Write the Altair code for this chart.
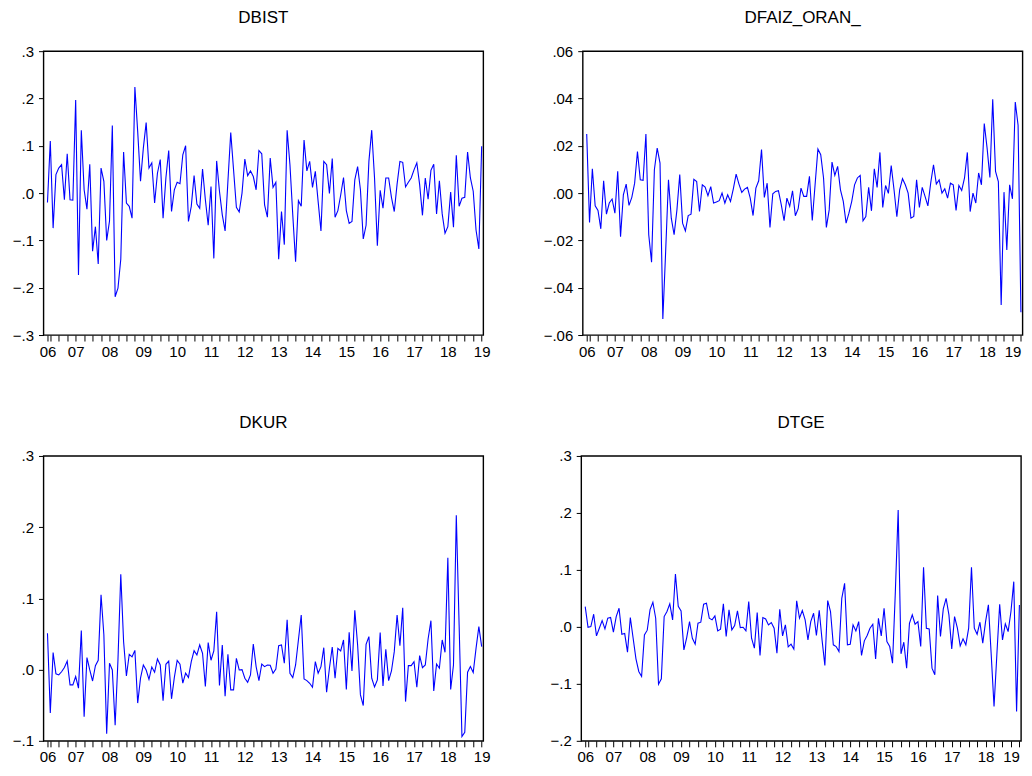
import altair as alt
import pandas as pd

# Monthly observations, 2006M03 - 2019M01 (155 obs)
start_month = "2006-03-01"
n_obs = 155

dbist = [-0.02, 0.11, -0.074, 0.039, 0.053, 0.06, -0.014, 0.083, -0.014, -0.015,
         0.197, -0.173, 0.133, 0.007, -0.034, 0.061, -0.123, -0.071, -0.15, 0.053,
         0.025, -0.1, -0.059, 0.143, -0.219, -0.201, -0.14, 0.087, -0.021, -0.028,
         -0.053, 0.224, 0.13, 0.025, 0.095, 0.149, 0.053, 0.064, -0.021, 0.042,
         0.071, -0.053, 0.032, 0.09, -0.039, 0.007, 0.023, 0.02, 0.081, 0.1,
         -0.06, -0.028, 0.037, -0.023, -0.032, 0.051, -0.014, -0.068, 0.014, -0.138,
         0.068, 0.004, -0.046, -0.08, 0.025, 0.128, 0.049, -0.03, -0.04, 0.0,
         0.072, 0.037, 0.047, 0.035, 0.007, 0.09, 0.083, -0.025, -0.051, 0.074,
         0.012, 0.023, -0.14, -0.039, -0.109, 0.133, 0.06, -0.046, -0.145, -0.016,
         -0.028, 0.112, 0.047, 0.067, 0.012, 0.046, -0.018, -0.08, 0.067, 0.06,
         -0.001, 0.073, -0.051, -0.037, -0.004, 0.033, -0.037, -0.064, -0.06, 0.028,
         0.056, 0.007, -0.097, -0.068, 0.067, 0.133, 0.032, -0.111, 0.006, -0.032,
         0.032, 0.032, -0.009, -0.039, 0.019, 0.067, 0.065, 0.013, 0.023, 0.032,
         0.049, 0.064, 0.018, -0.047, 0.032, -0.013, 0.048, 0.061, -0.044, 0.026,
         -0.044, -0.085, -0.071, 0.002, -0.072, 0.08, -0.028, -0.011, -0.009, 0.087,
         0.032, 0.004, -0.078, -0.118, 0.099]

dfaiz = [0.025, -0.0124, 0.0103, -0.0054, -0.0073, -0.0151, 0.0052, -0.0089, -0.0042, -0.0025,
         -0.0085, 0.0092, -0.0184, -0.0007, 0.0038, -0.0052, -0.0018, 0.0042, 0.0176, 0.0056,
         0.0054, 0.025, -0.0176, -0.0292, 0.0099, 0.019, 0.0127, -0.0532, -0.0247, 0.0056,
         -0.0106, -0.0176, -0.0071, 0.0078, -0.0127, -0.016, -0.0095, -0.0089, 0.0058, 0.0049,
         -0.0078, 0.0035, 0.0025, -0.0011, 0.0027, -0.0042, -0.0038, -0.0032, 0.0, -0.0042,
         -0.0007, -0.0035, 0.0018, 0.008, 0.0038, 0.0003, 0.0017, 0.0024, -0.0021, -0.0095,
         0.0021, 0.0052, 0.0184, -0.0018, 0.0042, -0.0145, -0.0003, 0.0007, 0.001, -0.0049,
         -0.0117, -0.0021, -0.0056, 0.001, -0.0096, -0.0066, 0.0021, -0.0014, -0.0014, 0.0071,
         -0.0116, 0.0035, 0.0186, 0.0162, 0.0064, -0.0145, -0.0071, 0.0131, 0.0075, 0.0113,
         0.0014, -0.0035, -0.0127, -0.0085, -0.0035, 0.0035, 0.0064, 0.0075, -0.0117, -0.0099,
         0.0024, -0.0075, 0.0103, 0.0024, 0.0172, -0.0061, 0.0032, -0.0001, 0.0116, 0.0014,
         -0.01, 0.0014, 0.0061, 0.0035, 0.0, -0.0106, -0.0099, 0.0056, -0.0061, 0.0024,
         -0.0014, -0.0054, 0.0042, 0.012, 0.0038, 0.0056, 0.0, 0.0018, -0.0021, 0.0042,
         0.0035, -0.0073, 0.0032, 0.0011, 0.0064, 0.0172, -0.0078, 0.0, -0.0042, 0.0085,
         0.0035, 0.0294, 0.0191, 0.0066, 0.0397, 0.0092, 0.0049, -0.0473, 0.0004, -0.024,
         0.0035, -0.0024, 0.0385, 0.0287, -0.0504]

dkur = [0.051, -0.061, 0.024, -0.006, -0.0075, -0.003, 0.003, 0.012, -0.0215, -0.0215,
        -0.0098, -0.026, 0.055, -0.066, 0.017, -0.0005, -0.016, 0.0056, 0.013, 0.105,
        0.049, -0.09, 0.009, -0.0005, -0.078, 0.0136, 0.134, 0.039, -0.009, 0.0215,
        0.018, 0.027, -0.047, -0.012, 0.0065, -0.0005, -0.0136, 0.0037, -0.0037, 0.015,
        0.0065, -0.0435, 0.0075, 0.012, -0.041, -0.011, 0.013, 0.0075, -0.019, -0.005,
        -0.011, 0.0112, 0.0266, 0.0206, 0.0346, 0.0229, -0.0238, 0.0379, 0.0131, 0.0262,
        0.0813, -0.0224, 0.0346, -0.0374, 0.0215, -0.0285, -0.0285, 0.0159, -0.0005, 0.0,
        -0.0121, -0.0178, -0.0075, 0.036, 0.0042, -0.0154, 0.0079, 0.0042, 0.0065, 0.0061,
        -0.0051, 0.0009, 0.0336, 0.0346, 0.0089, 0.0701, -0.0051, -0.0112, 0.0065, 0.0416,
        0.0766, -0.0131, -0.0154, -0.0192, -0.0248, 0.0112, -0.0051, 0.0042, 0.0308, -0.0318,
        0.0019, 0.0318, -0.0121, 0.0299, 0.0262, 0.0416, -0.028, 0.0523, -0.0019, 0.0832,
        0.0346, -0.0355, -0.0505, 0.0355, 0.0463, -0.0121, -0.0243, -0.0145, 0.0519, -0.0229,
        0.0285, -0.0154, -0.0019, 0.0252, 0.0766, 0.0336, 0.0869, -0.0449, 0.0056, 0.0056,
        0.0112, -0.0248, 0.0196, 0.0028, 0.0065, 0.043, 0.0687, -0.0299, 0.0079, 0.0019,
        0.0416, 0.0243, 0.157, -0.028, 0.0065, 0.2168, 0.0626, -0.0939, -0.0879, -0.0037,
        0.0042, -0.0042, 0.0299, 0.0603, 0.0322]

dtge = [0.0356, -0.0006, 0.0006, 0.0222, -0.0158, -0.0023, 0.0111, -0.0035, 0.0152, 0.0164,
        -0.0093, 0.0181, 0.0327, -0.0129, -0.0117, -0.0444, 0.0164, -0.0199, -0.0561, -0.0783,
        -0.087, -0.014, -0.0058, 0.0304, 0.0432, 0.0152, -0.1005, -0.0911, 0.0181, 0.0269,
        0.0403, 0.0123, 0.0929, 0.0362, 0.028, -0.0403, -0.0187, 0.0093, -0.0199, -0.0304,
        0.0064, 0.0082, 0.0397, 0.0415, 0.0152, 0.0123, 0.0193, -0.007, -0.0041, 0.0403,
        -0.0169, 0.0298, -0.0053, 0.0023, 0.028, -0.0012, -0.0006, -0.007, 0.0444, -0.0199,
        -0.0374, 0.0251, -0.0502, 0.0164, 0.014, 0.0035, 0.0076, -0.0023, -0.0461, 0.031,
        -0.0158, 0.0035, -0.035, -0.0304, -0.0391, 0.0456, 0.0152, 0.0286, 0.0123, -0.0228,
        0.0093, 0.0239, -0.0152, 0.0292, -0.0228, -0.0678, 0.0461, 0.0269, -0.0315, -0.0345,
        -0.0432, 0.0502, 0.0765, -0.0315, -0.0304, 0.0035, -0.007, 0.0093, -0.0502, -0.0245,
        -0.0152, -0.0023, 0.0047, -0.0561, 0.0152, -0.0158, 0.0327, -0.0257, -0.0345, -0.0637,
        0.0619, 0.205, -0.0473, -0.0269, -0.0724, 0.0064, 0.021, 0.0047, 0.0093, -0.0345,
        0.1046, -0.0023, -0.0035, -0.0724, -0.0841, 0.0549, -0.0169, 0.0315, 0.0502, 0.021,
        -0.0386, 0.0181, -0.0023, -0.0333, -0.021, -0.0315, -0.0023, 0.1046, -0.0023, -0.0129,
        0.0082, -0.0286, 0.0093, 0.0386, -0.049, -0.1396, -0.049, 0.0397, -0.0228, 0.0053,
        -0.0082, 0.0269, 0.0794, -0.1484, 0.0386]

titles = ["DBIST", "DFAIZ_ORAN_", "DKUR", "DTGE"]
y_ranges = [(-0.3, 0.3, 0.1, ".1f"), (-0.06, 0.06, 0.02, ".2f"),
            (-0.1, 0.3, 0.1, ".1f"), (-0.2, 0.3, 0.1, ".1f")]

dates = pd.date_range(start_month, periods=n_obs, freq="MS")
t = list(dates.year + (dates.month - 1) / 12.0)

FONT = "Liberation Sans"
LABEL_SIZE = 15
first_t = t[0]
quarters = [2006 + k / 4 for k in range(1, 53)]
x_values = [first_t] + [q for q in quarters if q > first_t]
x_domain = [first_t - 0.118, t[-1] + 0.047]


def panel(title, values, yr, height, right_side):
    lo, hi, step, fmt = yr
    nsteps = int(round((hi - lo) / step))
    yvals = [round(lo + k * step, 4) for k in range(nsteps + 1)]
    df = pd.DataFrame({"t": t, "v": values})
    if right_side:
        x_align = {"condition": {"test": "datum.value > 2018.99", "value": "right"},
                   "value": "center"}
    else:
        x_align = "center"
    return alt.Chart(df).mark_line(color="#0000ff", strokeWidth=1.1).encode(
        x=alt.X("t:Q",
                scale=alt.Scale(domain=x_domain, nice=False, zero=False),
                axis=alt.Axis(values=x_values, title=None, grid=False, domain=False,
                              tickSize=6, tickColor="black", tickWidth=1,
                              labelExpr="(datum.value % 1 < 0.01 || datum.value < 2006.2) ? format(floor(datum.value) % 100, '02d') : ''",
                              labelAlign=x_align,
                              labelFlush=False, labelOverlap=False, labelPadding=3,
                              labelFont=FONT, labelFontSize=LABEL_SIZE, labelColor="black")),
        y=alt.Y("v:Q",
                scale=alt.Scale(domain=[lo, hi], nice=False, zero=False),
                axis=alt.Axis(values=yvals, title=None, grid=False, domain=False,
                              tickSize=5, tickColor="black", tickWidth=1,
                              labelExpr=f"replace(format(datum.value, '{fmt}'), '0.', '.')",
                              labelFlush=False, labelOverlap=False, labelPadding=5,
                              labelFont=FONT, labelFontSize=LABEL_SIZE, labelColor="black")),
    ).properties(
        width=440, height=height,
        title=alt.TitleParams(title, font=FONT, fontSize=17, fontWeight="normal",
                              color="black", anchor="middle", offset=17),
    )


series = [dbist, dfaiz, dkur, dtge]
heights = [284, 284, 285, 285]
panels = [panel(titles[k], series[k], y_ranges[k], heights[k], k % 2 == 1) for k in range(4)]

row1 = alt.hconcat(panels[0], panels[1], spacing=50.5)
row2 = alt.hconcat(panels[2], panels[3], spacing=58)
chart = alt.vconcat(row1, row2, spacing=53).properties(
    padding={"left": 3.5, "top": 0, "right": 0, "bottom": 0},
    background="white",
).configure_view(stroke="black", strokeWidth=1.4)

chart.save("out.html", embed_options={"renderer": "svg", "actions": False})
